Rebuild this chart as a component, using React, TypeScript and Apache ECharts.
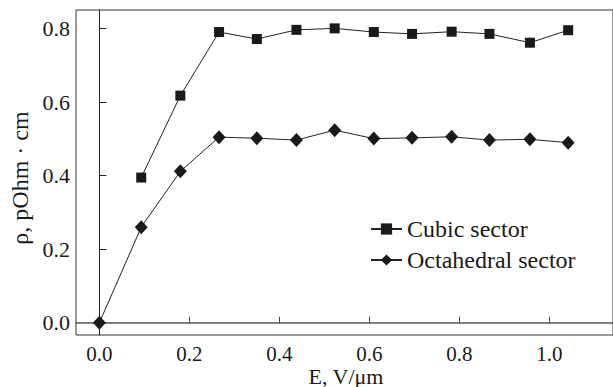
import React, { useEffect, useRef } from "react";
import * as echarts from "echarts";

const fieldE = [0.093, 0.18, 0.266, 0.35, 0.438, 0.523, 0.61, 0.695, 0.783, 0.867, 0.957, 1.042];
const cubicRho = [0.395, 0.618, 0.791, 0.772, 0.797, 0.801, 0.791, 0.786, 0.792, 0.786, 0.762, 0.796];
const octaE = [0, ...fieldE];
const octaRho = [0.0, 0.26, 0.412, 0.505, 0.502, 0.497, 0.524, 0.501, 0.503, 0.506, 0.497, 0.499, 0.49];
const xTicks = [0, 0.2, 0.4, 0.6, 0.8, 1.0];
const yTicks = [0, 0.2, 0.4, 0.6, 0.8];
const seriesNames = ["Cubic sector", "Octahedral sector"];

const FONT = "'Liberation Serif', 'DejaVu Serif', serif";
const INK = "#1a1a1a";

export default function App() {
  const ref = useRef<HTMLDivElement>(null);
  useEffect(() => {
    if (!ref.current) return;
    const chart = echarts.init(ref.current, null, { renderer: "svg" });
    const gridLeft = 76;
    const gridRight = -30;
    const pxPerUnitX = 475;
    const xMin = -0.052;
    const xMax = xMin + (613 - gridLeft - gridRight) / pxPerUnitX;
    chart.setOption({
      animation: false,
      backgroundColor: "#ffffff",
      textStyle: { fontFamily: FONT },
      grid: {
        left: gridLeft,
        right: gridRight,
        top: 10,
        bottom: 52,
        show: true,
        borderColor: "#333",
        borderWidth: 1,
        containLabel: false,
      },
      legend: {
        orient: "vertical",
        left: 365,
        top: 212,
        itemWidth: 31,
        itemHeight: 14,
        itemGap: 7,
        itemTextGap: 9,
        textStyle: { fontFamily: FONT, fontSize: 24, lineHeight: 24, color: INK },
        data: seriesNames,
      },
      xAxis: {
        type: "value",
        min: xMin,
        max: xMax,
        axisLine: { show: true, lineStyle: { color: "#555", width: 1.5 } },
        axisTick: {
          show: true,
          inside: true,
          length: 6,
          customValues: xTicks,
          lineStyle: { color: "#444", width: 1 },
        },
        axisLabel: {
          customValues: xTicks,
          formatter: (v: number) => v.toFixed(1),
          fontFamily: FONT,
          fontSize: 21,
          lineHeight: 21,
          color: INK,
          margin: 8,
        },
        splitLine: { show: false },
      },
      yAxis: {
        type: "value",
        min: -0.0335,
        max: 0.851,
        axisLine: { show: true, lineStyle: { color: "#222", width: 1 } },
        axisTick: {
          show: true,
          inside: true,
          length: 7,
          customValues: yTicks,
          lineStyle: { color: "#222", width: 1 },
        },
        axisLabel: {
          customValues: yTicks,
          formatter: (v: number) => v.toFixed(1),
          fontFamily: FONT,
          fontSize: 22,
          color: INK,
          margin: 6,
        },
        splitLine: { show: false },
      },
      graphic: [
        {
          type: "text",
          x: 346,
          y: 376,
          style: {
            text: "E, V/μm",
            fontFamily: FONT,
            fontSize: 22,
            lineHeight: 22,
            fill: INK,
            align: "center",
            verticalAlign: "middle",
          },
        },
        {
          type: "text",
          x: 20,
          y: 178,
          rotation: Math.PI / 2,
          style: {
            text: "ρ, pOhm · cm",
            fontFamily: FONT,
            fontSize: 24,
            fill: INK,
            align: "center",
            verticalAlign: "middle",
          },
        },
      ],
      series: [
        {
          name: seriesNames[0],
          type: "line",
          data: fieldE.map((x, i) => [x, cubicRho[i]]),
          symbol: "rect",
          symbolSize: 10,
          lineStyle: { color: "#222", width: 1 },
          itemStyle: { color: INK },
        },
        {
          name: seriesNames[1],
          type: "line",
          data: octaE.map((x, i) => [x, octaRho[i]]),
          symbol: "diamond",
          symbolSize: [13, 14],
          lineStyle: { color: "#222", width: 1 },
          itemStyle: { color: INK },
        },
      ],
    });
    return () => chart.dispose();
  }, []);
  return (
    <div
      ref={ref}
      style={{ position: "absolute", left: 0, top: 0, width: 613, height: 387 }}
    />
  );
}
